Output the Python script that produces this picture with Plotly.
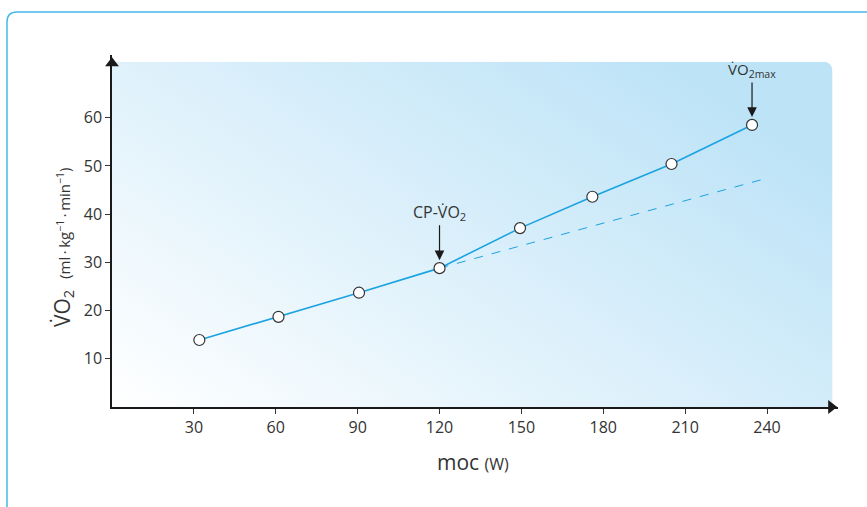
import base64
import plotly.graph_objects as go

# Oxygen uptake vs. power output during an incremental test
power = [32, 61, 90.5, 120, 149.5, 176, 205, 234.5]
vo2 = [13.9, 18.7, 23.7, 28.8, 37.1, 43.6, 50.4, 58.5]

# Linear extrapolation of the sub-threshold slope beyond CP
ext_power = [120, 239]
ext_vo2 = [28.8, 47.3]

x_ticks = [30, 60, 90, 120, 150, 180, 210, 240]
y_ticks = [10, 20, 30, 40, 50, 60]

cp_index = 3
max_index = 7

LINE = "#1ba3e1"
INK = "#333333"
FONT = "Open Sans"

X_MAX, Y_MAX = 266, 73
PANEL_X, PANEL_Y = 264, 71.6

# Gradient panel behind the plot (white bottom-left to light blue top-right)
svg = (
    "<svg xmlns='http://www.w3.org/2000/svg' width='721' height='346' "
    "viewBox='0 0 721 346' preserveAspectRatio='none'>"
    "<defs><linearGradient id='g' gradientUnits='userSpaceOnUse' "
    "x1='0' y1='346' x2='332' y2='-151'>"
    "<stop offset='0' stop-color='#ffffff'/>"
    "<stop offset='1' stop-color='#bde3f7'/>"
    "</linearGradient></defs>"
    "<path d='M0,0 L711,0 Q721,0 721,10 L721,346 L0,346 Z' fill='url(#g)'/>"
    "</svg>"
)
svg_uri = "data:image/svg+xml;base64," + base64.b64encode(svg.encode()).decode()

fig = go.Figure()

fig.add_trace(go.Scatter(
    x=ext_power, y=ext_vo2, mode="lines",
    line=dict(color=LINE, width=1, dash="dash"),
    hoverinfo="skip", showlegend=False,
))
fig.add_trace(go.Scatter(
    x=power, y=vo2, mode="lines+markers",
    line=dict(color=LINE, width=1.6),
    marker=dict(size=11, color="white", line=dict(color=INK, width=1.2)),
    showlegend=False,
))

# Arrowheads at the ends of both axes
fig.add_trace(go.Scatter(
    x=[0, 263.5], y=[71.3, 0],
    mode="markers",
    marker=dict(symbol=["triangle-up", "triangle-right"], size=12, color="#1a1a1a"),
    cliponaxis=False, hoverinfo="skip", showlegend=False,
))

fig.add_layout_image(dict(
    source=svg_uri, xref="x", yref="y",
    x=0, y=PANEL_Y, sizex=PANEL_X, sizey=PANEL_Y,
    sizing="stretch", layer="below", xanchor="left", yanchor="top",
))

# Outer frame with a rounded top-left corner
fx, fy = (7 - 112) / 726, (407 - 12) / 352
rx, ry = 10 / 726, 10 / 352
fig.add_shape(
    type="path", xref="paper", yref="paper",
    path=(f"M {fx},-0.35 L {fx},{fy - ry} Q {fx},{fy} {fx + rx},{fy} L 1.1,{fy}"),
    line=dict(color="#45b8ec", width=1.5),
)

fig.add_annotation(
    x=power[cp_index], y=vo2[cp_index], xref="x", yref="y",
    text="CP-V̇O<sub>2</sub>", showarrow=True,
    ax=0, ay=-56, arrowhead=2, arrowsize=1.6, arrowwidth=1.2,
    arrowcolor="#1a1a1a", standoff=8,
    font=dict(family=FONT, size=16, color=INK),
)
fig.add_annotation(
    x=power[max_index], y=vo2[max_index], xref="x", yref="y",
    text="V̇O<sub>2max</sub>", showarrow=True,
    ax=0, ay=-55, arrowhead=2, arrowsize=1.6, arrowwidth=1.2,
    arrowcolor="#1a1a1a", standoff=8,
    font=dict(family=FONT, size=15, color=INK),
)

fig.add_annotation(
    x=(63 - 112) / 726, y=(407 - 247) / 352, xref="paper", yref="paper",
    text=("V̇O<sub>2</sub>  <span style='font-size:15px'>"
          "(ml\u2009·\u2009kg<sup>−1</sup>\u2009·\u2009min<sup>−1</sup>)</span>"),
    textangle=-90, showarrow=False, xanchor="center", yanchor="middle",
    font=dict(family=FONT, size=21, color=INK),
)
fig.add_annotation(
    x=(473 - 112) / 726, y=(407 - 462) / 352, xref="paper", yref="paper",
    text="moc <span style='font-size:16px'>(W)</span>",
    showarrow=False, xanchor="center", yanchor="middle",
    font=dict(family=FONT, size=21, color=INK),
)

axis_common = dict(
    showgrid=False, zeroline=False, showline=True,
    linecolor="#1a1a1a", linewidth=1.5,
    ticks="outside", ticklen=5, tickcolor=INK, tickwidth=1,
    tickfont=dict(family=FONT, size=16, color=INK),
    fixedrange=True,
)

fig.update_layout(
    width=867, height=507,
    margin=dict(l=112, r=29, t=55, b=100),
    paper_bgcolor="white", plot_bgcolor="rgba(0,0,0,0)",
    xaxis=dict(range=[0, X_MAX], tickvals=x_ticks, **axis_common),
    yaxis=dict(range=[0, Y_MAX], tickvals=y_ticks, **axis_common),
)

fig.write_html("out.html")
